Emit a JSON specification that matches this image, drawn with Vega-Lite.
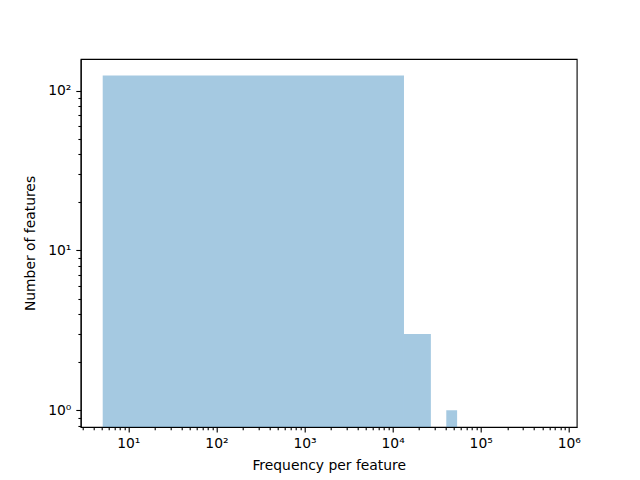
{
  "$schema": "https://vega.github.io/schema/vega-lite/v6.json",
  "autosize": "none",
  "width": 496,
  "height": 368,
  "padding": {"left": 80.7, "top": 59, "right": 63.3, "bottom": 52.7},
  "background": "white",
  "config": {
    "font": "DejaVu Sans",
    "view": {"stroke": "black", "strokeWidth": 1.1},
    "axis": {
      "domainColor": "black",
      "domainWidth": 1.1,
      "tickColor": "black",
      "tickWidth": 1.1,
      "labelColor": "black",
      "labelFont": "DejaVu Sans",
      "labelFontSize": 13.9,
      "titleFont": "DejaVu Sans",
      "titleFontSize": 13.9,
      "titleFontWeight": "normal",
      "titleColor": "black",
      "grid": false,
      "labelPadding": 2,
      "labelFlush": false,
      "labelOverlap": false
    }
  },
  "data": {
    "values": [
      {"bin_start": 5.12, "bin_end": 13470, "count": 124},
      {"bin_start": 13470, "bin_end": 27200, "count": 3},
      {"bin_start": 40700, "bin_end": 54000, "count": 1}
    ]
  },
  "mark": {"type": "rect", "color": "#1f77b4", "opacity": 0.4, "clip": true},
  "encoding": {
    "x": {
      "field": "bin_start",
      "type": "quantitative",
      "scale": {"type": "log", "domain": [2.88, 1230000], "nice": false},
      "axis": {
        "title": "Frequency per feature",
        "titlePadding": 8,
        "values": [3,4,5,6,7,8,9,10,20,30,40,50,60,70,80,90,100,200,300,400,500,600,700,800,900,1000,2000,3000,4000,5000,6000,7000,8000,9000,10000,20000,30000,40000,50000,60000,70000,80000,90000,100000,200000,300000,400000,500000,600000,700000,800000,900000,1000000],
        "tickSize": {"condition": {"test": "abs(log(datum.value)/LN10 - round(log(datum.value)/LN10)) < 0.001", "value": 4.9}, "value": 2.8},
        "labelExpr": "abs(log(datum.value)/LN10 - round(log(datum.value)/LN10)) < 0.001 ? '10' + ['⁰','¹','²','³','⁴','⁵','⁶'][round(log(datum.value)/LN10)] : ''",
        "labelPadding": 4.9
      }
    },
    "x2": {"field": "bin_end"},
    "y": {
      "field": "count",
      "type": "quantitative",
      "scale": {"type": "log", "domain": [0.786, 157.5], "nice": false},
      "axis": {
        "title": "Number of features",
        "titlePadding": 10,
        "values": [0.8,0.9,1,2,3,4,5,6,7,8,9,10,20,30,40,50,60,70,80,90,100],
        "tickSize": {"condition": {"test": "abs(log(datum.value)/LN10 - round(log(datum.value)/LN10)) < 0.001", "value": 4.9}, "value": 2.8},
        "labelExpr": "abs(log(datum.value)/LN10 - round(log(datum.value)/LN10)) < 0.001 ? '10' + ['⁰','¹','²','³','⁴','⁵','⁶'][round(log(datum.value)/LN10)] : ''",
        "labelPadding": 4.9
      }
    },
    "y2": {"datum": 0.1}
  }
}
